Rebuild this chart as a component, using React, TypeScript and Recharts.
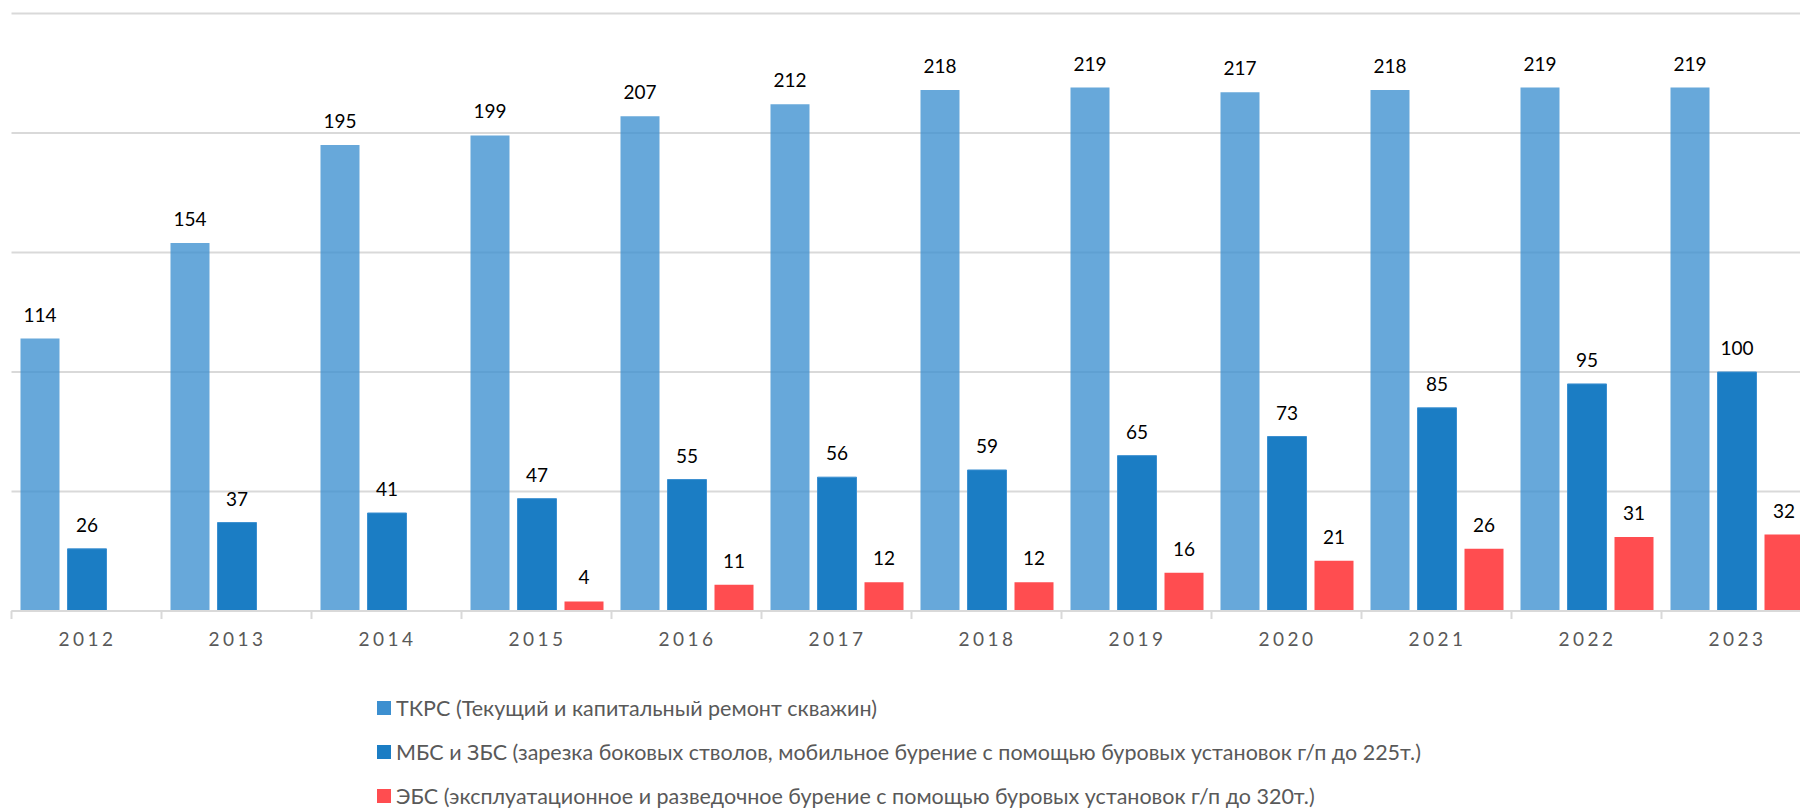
import React from 'react';
import { BarChart, Bar, XAxis, YAxis, CartesianGrid, LabelList, Legend } from 'recharts';

// years on the category axis
const years = ['2012', '2013', '2014', '2015', '2016', '2017', '2018', '2019', '2020', '2021', '2022', '2023'];

// ТКРС
const tkrs = [114, 154, 195, 199, 207, 212, 218, 219, 217, 218, 219, 219];
// МБС и ЗБС
const mbs = [26, 37, 41, 47, 55, 56, 59, 65, 73, 85, 95, 100];
// ЭБС (no wells before 2015)
const ebs: (number | null)[] = [null, null, null, 4, 11, 12, 12, 16, 21, 26, 31, 32];

const yTicks = [0, 50, 100, 150, 200, 250];

const seriesOrder = ['tkrs', 'mbs', 'ebs'];
const seriesNames: Record<string, string> = {
  tkrs: 'ТКРС (Текущий и капитальный ремонт скважин)',
  mbs: 'МБС и ЗБС (зарезка боковых стволов, мобильное бурение с помощью буровых установок г/п до 225т.)',
  ebs: 'ЭБС (эксплуатационное и разведочное бурение с помощью буровых установок г/п до 320т.)',
};

const data = years.map((year, i) => ({
  year,
  tkrs: tkrs[i],
  mbs: mbs[i],
  ebs: ebs[i],
}));

const FONT = 'Lato, "Open Sans", sans-serif';
const BAND = 150;

const YearTick = (props: any) => {
  const { x, y, payload, index } = props;
  return (
    <g>
      <line x1={x - BAND / 2} y1={y} x2={x - BAND / 2} y2={y + 8} stroke="#d9d9d9" strokeWidth={2} />
      {index === years.length - 1 && (
        <line x1={x + BAND / 2} y1={y} x2={x + BAND / 2} y2={y + 8} stroke="#d9d9d9" strokeWidth={2} />
      )}
      <text
        x={x + 1}
        y={y + 35}
        textAnchor="middle"
        fill="#595959"
        fontSize={19}
        fontFamily={FONT}
        style={{ letterSpacing: '3.5px' }}
      >
        {payload.value}
      </text>
    </g>
  );
};

const LegendContent = (props: any) => {
  const { payload } = props;
  const items = seriesOrder
    .map((key) => payload.find((p: any) => p.dataKey === key))
    .filter(Boolean);
  return (
    <div style={{ fontFamily: FONT }}>
      {items.map((entry: any) => (
        <div
          key={entry.dataKey}
          style={{ display: 'flex', alignItems: 'center', height: 44, color: '#595959', fontSize: 21.5, whiteSpace: 'nowrap' }}
        >
          <span style={{ width: 14, height: 14, background: entry.color, marginRight: 5, display: 'inline-block' }} />
          <span>{entry.value}</span>
        </div>
      ))}
    </div>
  );
};

const App: React.FC = () => {
  return (
    <div style={{ position: 'absolute', left: 0, top: 0, width: 1800, height: 810, overflow: 'hidden', background: '#fff' }}>
      <BarChart
        width={1815}
        height={810}
        data={data}
        margin={{ top: 13.5, right: 3.5, left: 11.5, bottom: 159 }}
        barSize={39}
        barGap={8}
      >
        <CartesianGrid vertical={false} stroke="#d9d9d9" strokeWidth={2} />
        <XAxis
          dataKey="year"
          height={40}
          axisLine={{ stroke: '#d9d9d9', strokeWidth: 2 }}
          tickLine={false}
          tickSize={0}
          tickMargin={0}
          tick={<YearTick />}
          interval={0}
        />
        <YAxis hide domain={[0, 250]} ticks={yTicks} width={0} />
        <Legend
          layout="vertical"
          align="center"
          verticalAlign="middle"
          wrapperStyle={{ left: 377, top: 686, width: 1350 }}
          content={<LegendContent />}
        />
        <Bar dataKey="tkrs" name={seriesNames.tkrs} fill="#3c8fd0" fillOpacity={0.78} isAnimationActive={false}>
          <LabelList dataKey="tkrs" position="top" offset={17} fill="#000" fontSize={19} fontFamily={FONT} />
        </Bar>
        <Bar dataKey="mbs" name={seriesNames.mbs} fill="#1b7dc4" stroke="#3b8fd0" strokeWidth={1} isAnimationActive={false}>
          <LabelList dataKey="mbs" position="top" offset={17} fill="#000" fontSize={19} fontFamily={FONT} />
        </Bar>
        <Bar dataKey="ebs" name={seriesNames.ebs} fill="#ff4d50" isAnimationActive={false}>
          <LabelList dataKey="ebs" position="top" offset={17} fill="#000" fontSize={19} fontFamily={FONT} />
        </Bar>
      </BarChart>
    </div>
  );
};

export default App;
